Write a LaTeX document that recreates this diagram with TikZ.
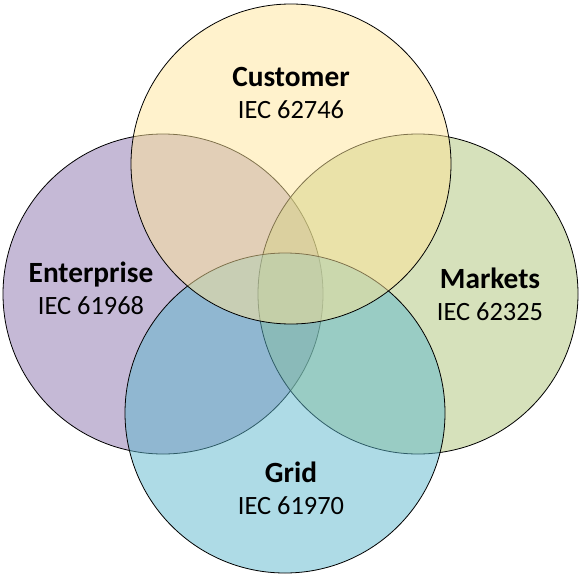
\documentclass[tikz,border=0pt]{standalone}
\usepackage{fontspec}
\setmainfont{Carlito}
\definecolor{custfill}{RGB}{255,229,153}
\definecolor{entfill}{RGB}{139,115,173}
\definecolor{mktfill}{RGB}{173,195,119}
\definecolor{gridfill}{RGB}{93,183,205}
\newcommand{\vennhead}[1]{{\fontsize{22pt}{24pt}\selectfont\bfseries #1}}
\tikzset{
  venn/.style={draw=black, line width=0.6pt, fill opacity=0.5},
  lbl/.style={align=center, text opacity=1, font=\fontsize{19.8pt}{24pt}\selectfont}
}
\begin{document}
\begin{tikzpicture}[x=0.75pt, y=0.75pt]
    \useasboundingbox (0,0) rectangle (581,576);
    \draw[venn, fill=entfill] (163,282) circle[radius=120pt]; %% Enterprise
    \draw[venn, fill=mktfill] (418,282) circle[radius=120pt]; %% Markets
    \draw[venn, fill=gridfill] (285,163) circle[radius=120pt]; %% Grid
    \draw[venn, fill=custfill] (291,412) circle[radius=120pt]; %% Customer
    \node[lbl] (custlbl) at (291,483) {\vennhead{Customer}\\IEC 62746};
    \node[lbl] (entlbl) at (91,288) {\vennhead{Enterprise}\\IEC 61968};
    \node[lbl] (mktlbl) at (490,282) {\vennhead{Markets}\\IEC 62325};
    \node[lbl] (gridlbl) at (291,87.5) {\vennhead{Grid}\\IEC 61970};
\end{tikzpicture}
\end{document}
